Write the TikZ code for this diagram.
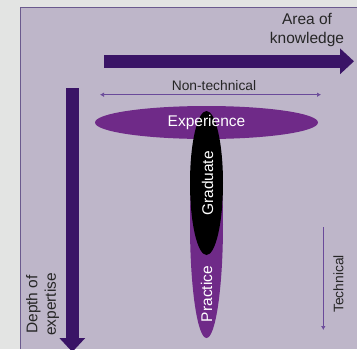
\documentclass[tikz,border=0pt]{standalone}
\usepackage{fontspec}
\setmainfont{Liberation Sans}
\usetikzlibrary{arrows.meta,shapes.geometric}

\definecolor{pagegrey}{HTML}{E3E4E3}
\definecolor{panel}{HTML}{BEB6C9}
\definecolor{rim}{HTML}{6B5A8E}
\definecolor{axis}{HTML}{3A1466}
\definecolor{blob}{HTML}{6F2A88}
\definecolor{fineline}{HTML}{6A4A9A}

\tikzset{
	smalltip/.tip = {Latex[length = 4pt, width = 4.5pt]},
	bigaxis/.style = {axis, line width = 12.5pt, -{Triangle[length = 14pt, width = 25pt]}},
	span/.style = {fineline, line width = 0.6pt},
	blobby/.style = {ellipse, inner sep = 0pt},
	lbl/.style = {font = \fontsize{15.5}{18.5}\selectfont, text = black!85, align = center, inner sep = 0pt},
	small/.style = {font = \fontsize{13.8}{16}\selectfont, text = black!85, inner sep = 0pt},
	inblob/.style = {font = \fontsize{15.5}{18}\selectfont, text = white, inner sep = 0pt}
}

\begin{document}
\begin{tikzpicture}[x = 1pt, y = -1pt]
	\useasboundingbox (0, 0) rectangle (357, 349) ;
	\fill [pagegrey] (0, 0) rectangle (357, 349) ;
	\fill [panel] (20.5, 7) rectangle (357, 349) ;
	\draw [rim, line width = 1pt] (20.5, 349) -- (20.5, 7) -- (357, 7) ;

	% axes
	\coordinate (areastart) at (104, 61.3) ;
	\coordinate (areaend) at (354, 61.3) ;
	\coordinate (depthstart) at (72.3, 88.3) ;
	\coordinate (depthend) at (72.3, 352) ;
	\draw [bigaxis] (areastart) -- (areaend) ;
	\draw [bigaxis] (depthstart) -- (depthend) ;
	\node [lbl] (area) at (307, 30) {Area of\\knowledge} ;
	\node [lbl, rotate = 90] (depth) at (42.5, 304.5) {Depth of\\expertise} ;

	% breadth and depth markers
	\coordinate (ntleft) at (100, 94.7) ;
	\coordinate (ntright) at (321, 94.7) ;
	\coordinate (ttop) at (323.3, 227) ;
	\coordinate (tbottom) at (323.3, 330) ;
	\draw [span, smalltip-smalltip] (ntleft) -- (ntright) ;
	\draw [span, -smalltip] (ttop) -- (tbottom) ;
	\node [small] (nontech) at (214, 86) {Non-technical} ;
	\node [small, rotate = 90] (tech) at (338.5, 284) {Technical} ;

	% the T
	\node [blobby, fill = blob, minimum width = 223pt, minimum height = 33pt] (exp) at (206.5, 122.5) {} ;
	\node [blobby, fill = blob, rotate = 90, minimum width = 227pt, minimum height = 33pt] (prac) at (206.5, 224.5) {} ;
	\node [blobby, fill = black, rotate = 90, minimum width = 144pt, minimum height = 33pt] (grad) at (206.5, 183) {} ;
	\node [inblob] (exptxt) at (exp) {Experience} ;
	\node [inblob, rotate = 90] (gradtxt) at (207.5, 183.5) {Graduate} ;
	\node [inblob, rotate = 90] (practxt) at (206.5, 294) {Practice} ;

\end{tikzpicture}
\end{document}
